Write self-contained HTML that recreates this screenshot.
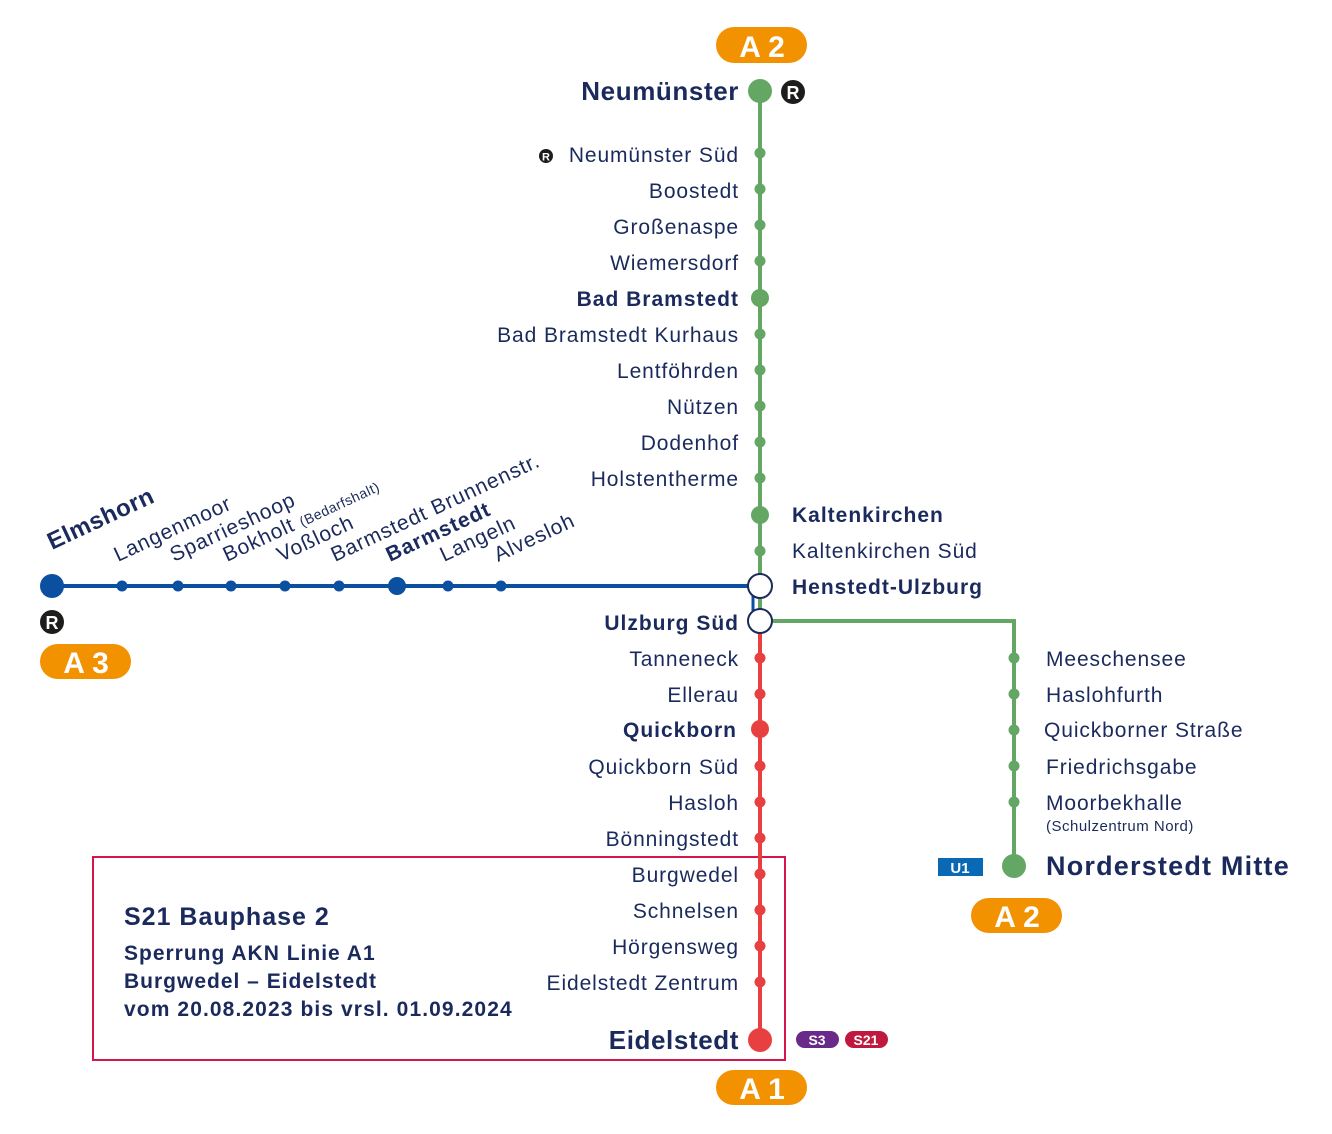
<!DOCTYPE html>
<html><head><meta charset="utf-8"><style>
html,body{margin:0;padding:0;background:#fff;}
svg{display:block;font-family:"Liberation Sans",sans-serif;}
.n{fill:#1b2a5c;font-size:21px;letter-spacing:0.9px;}
.b{fill:#1b2a5c;font-size:21px;font-weight:bold;letter-spacing:1px;}
.bw{fill:#fff;font-weight:bold;}
</style></head><body>
<svg width="1332" height="1134" viewBox="0 0 1332 1134" xmlns="http://www.w3.org/2000/svg">
<!-- box -->
<rect x="93" y="857" width="692" height="203" fill="none" stroke="#d4164a" stroke-width="2"/>
<text x="124" y="925" class="b" style="font-size:25px;letter-spacing:1px">S21 Bauphase 2</text>
<text x="124" y="960" class="b" style="font-size:21px;letter-spacing:1px">Sperrung AKN Linie A1</text>
<text x="124" y="988" class="b" style="font-size:21px;letter-spacing:1px">Burgwedel – Eidelstedt</text>
<text x="124" y="1016" class="b" style="font-size:21px;letter-spacing:1.1px">vom 20.08.2023 bis vrsl. 01.09.2024</text>

<!-- lines -->
<line x1="760" y1="91" x2="760" y2="621" stroke="#64a664" stroke-width="4"/>
<polyline points="760,621 1014,621 1014,866" fill="none" stroke="#64a664" stroke-width="4"/>
<line x1="760" y1="621" x2="760" y2="1040" stroke="#e84040" stroke-width="4"/>
<line x1="52" y1="586" x2="750" y2="586" stroke="#0b4fa0" stroke-width="4"/>
<line x1="753" y1="586" x2="753" y2="612" stroke="#0b4fa0" stroke-width="3"/>

<!-- green stations -->
<g fill="#64a664">
<circle cx="760" cy="91" r="12"/>
<circle cx="760" cy="153" r="5.5"/><circle cx="760" cy="189" r="5.5"/><circle cx="760" cy="225" r="5.5"/><circle cx="760" cy="261" r="5.5"/>
<circle cx="760" cy="298" r="9"/>
<circle cx="760" cy="334" r="5.5"/><circle cx="760" cy="370" r="5.5"/><circle cx="760" cy="406" r="5.5"/><circle cx="760" cy="442" r="5.5"/><circle cx="760" cy="478" r="5.5"/>
<circle cx="760" cy="515" r="9"/>
<circle cx="760" cy="551" r="5.5"/>
<circle cx="1014" cy="658" r="5.5"/><circle cx="1014" cy="694" r="5.5"/><circle cx="1014" cy="730" r="5.5"/><circle cx="1014" cy="766" r="5.5"/><circle cx="1014" cy="802" r="5.5"/>
<circle cx="1014" cy="866" r="12"/>
</g>
<g fill="#e84040">
<circle cx="760" cy="658" r="5.5"/><circle cx="760" cy="694" r="5.5"/>
<circle cx="760" cy="729" r="9"/>
<circle cx="760" cy="766" r="5.5"/><circle cx="760" cy="802" r="5.5"/><circle cx="760" cy="838" r="5.5"/><circle cx="760" cy="874" r="5.5"/><circle cx="760" cy="910" r="5.5"/><circle cx="760" cy="946" r="5.5"/><circle cx="760" cy="982" r="5.5"/>
<circle cx="760" cy="1040" r="12"/>
</g>
<g fill="#0b4fa0">
<circle cx="52" cy="586" r="12"/>
<circle cx="122" cy="586" r="5.5"/><circle cx="178" cy="586" r="5.5"/><circle cx="231" cy="586" r="5.5"/><circle cx="285" cy="586" r="5.5"/><circle cx="339" cy="586" r="5.5"/>
<circle cx="397" cy="586" r="9"/>
<circle cx="448" cy="586" r="5.5"/><circle cx="501" cy="586" r="5.5"/>
</g>
<circle cx="760" cy="586" r="12" fill="#fff" stroke="#1b2a5c" stroke-width="2"/>
<circle cx="760" cy="621" r="12" fill="#fff" stroke="#1b2a5c" stroke-width="2"/>

<!-- R badges -->
<g>
<circle cx="793" cy="92" r="12" fill="#1d1d1b"/><text x="793" y="99" text-anchor="middle" class="bw" font-size="18">R</text>
<circle cx="52" cy="622" r="12" fill="#1d1d1b"/><text x="52" y="629" text-anchor="middle" class="bw" font-size="18">R</text>
<circle cx="546" cy="156" r="7" fill="#1d1d1b"/><text x="546" y="160.5" text-anchor="middle" class="bw" font-size="11">R</text>
</g>

<!-- orange badges -->
<g>
<rect x="716" y="27" width="91" height="36" rx="18" fill="#f39200"/><text x="762" y="57" text-anchor="middle" class="bw" font-size="30">A 2</text>
<rect x="40" y="644" width="91" height="35" rx="17.5" fill="#f39200"/><text x="86" y="673" text-anchor="middle" class="bw" font-size="30">A 3</text>
<rect x="971" y="898" width="91" height="35" rx="17.5" fill="#f39200"/><text x="1017" y="927" text-anchor="middle" class="bw" font-size="30">A 2</text>
<rect x="716" y="1070" width="91" height="35" rx="17.5" fill="#f39200"/><text x="762" y="1099" text-anchor="middle" class="bw" font-size="30">A 1</text>
</g>
<rect x="938" y="858" width="45" height="18" fill="#0a69b4"/><text x="960" y="873" text-anchor="middle" class="bw" font-size="15">U1</text>
<rect x="796" y="1031" width="43" height="17" rx="8.5" fill="#6a2a8a"/><text x="817" y="1045" text-anchor="middle" class="bw" font-size="14">S3</text>
<rect x="845" y="1031" width="43" height="17" rx="8.5" fill="#c0193f"/><text x="866" y="1045" text-anchor="middle" class="bw" font-size="14">S21</text>

<!-- left labels -->
<g text-anchor="end">
<text x="739" y="100" class="b" style="font-size:26px;letter-spacing:0.6px">Neumünster</text>
<text x="739" y="162" class="n">Neumünster Süd</text>
<text x="739" y="198" class="n">Boostedt</text>
<text x="739" y="234" class="n">Großenaspe</text>
<text x="739" y="270" class="n">Wiemersdorf</text>
<text x="739" y="306" class="b">Bad Bramstedt</text>
<text x="739" y="342" class="n">Bad Bramstedt Kurhaus</text>
<text x="739" y="378" class="n">Lentföhrden</text>
<text x="739" y="414" class="n">Nützen</text>
<text x="739" y="450" class="n">Dodenhof</text>
<text x="739" y="486" class="n">Holstentherme</text>
<text x="739" y="630" class="b">Ulzburg Süd</text>
<text x="739" y="666" class="n">Tanneneck</text>
<text x="739" y="702" class="n">Ellerau</text>
<text x="737" y="737" class="b">Quickborn</text>
<text x="739" y="774" class="n">Quickborn Süd</text>
<text x="739" y="810" class="n">Hasloh</text>
<text x="739" y="846" class="n">Bönningstedt</text>
<text x="739" y="882" class="n">Burgwedel</text>
<text x="739" y="918" class="n">Schnelsen</text>
<text x="739" y="954" class="n">Hörgensweg</text>
<text x="739" y="990" class="n">Eidelstedt Zentrum</text>
<text x="739" y="1049" class="b" style="font-size:26px;letter-spacing:0.6px">Eidelstedt</text>
</g>
<text x="792" y="522" class="b">Kaltenkirchen</text>
<text x="792" y="558" class="n">Kaltenkirchen Süd</text>
<text x="792" y="594" class="b">Henstedt-Ulzburg</text>
<text x="1046" y="666" class="n">Meeschensee</text>
<text x="1046" y="702" class="n">Haslohfurth</text>
<text x="1044" y="737" class="n">Quickborner Straße</text>
<text x="1046" y="774" class="n">Friedrichsgabe</text>
<text x="1046" y="810" class="n">Moorbekhalle</text>
<text x="1046" y="831" class="n" style="font-size:15px;letter-spacing:0.5px">(Schulzentrum Nord)</text>
<text x="1046" y="875" class="b" style="font-size:27px;letter-spacing:1.2px">Norderstedt Mitte</text>

<!-- rotated labels -->
<g>
<text transform="translate(52,550) rotate(-25)" class="b" style="font-size:24px;letter-spacing:0.5px">Elmshorn</text>
<text transform="translate(118,562) rotate(-25)" class="n">Langenmoor</text>
<text transform="translate(174,562) rotate(-25)" class="n">Sparrieshoop</text>
<text transform="translate(227,562) rotate(-25)" class="n">Bokholt <tspan style="font-size:14px;letter-spacing:0.5px">(Bedarfshalt)</tspan></text>
<text transform="translate(281,562) rotate(-25)" class="n">Voßloch</text>
<text transform="translate(335,562) rotate(-25)" class="n">Barmstedt Brunnenstr.</text>
<text transform="translate(390,562) rotate(-25)" class="b">Barmstedt</text>
<text transform="translate(444,562) rotate(-25)" class="n">Langeln</text>
<text transform="translate(498,562) rotate(-25)" class="n">Alvesloh</text>
</g>
</svg>
</body></html>
